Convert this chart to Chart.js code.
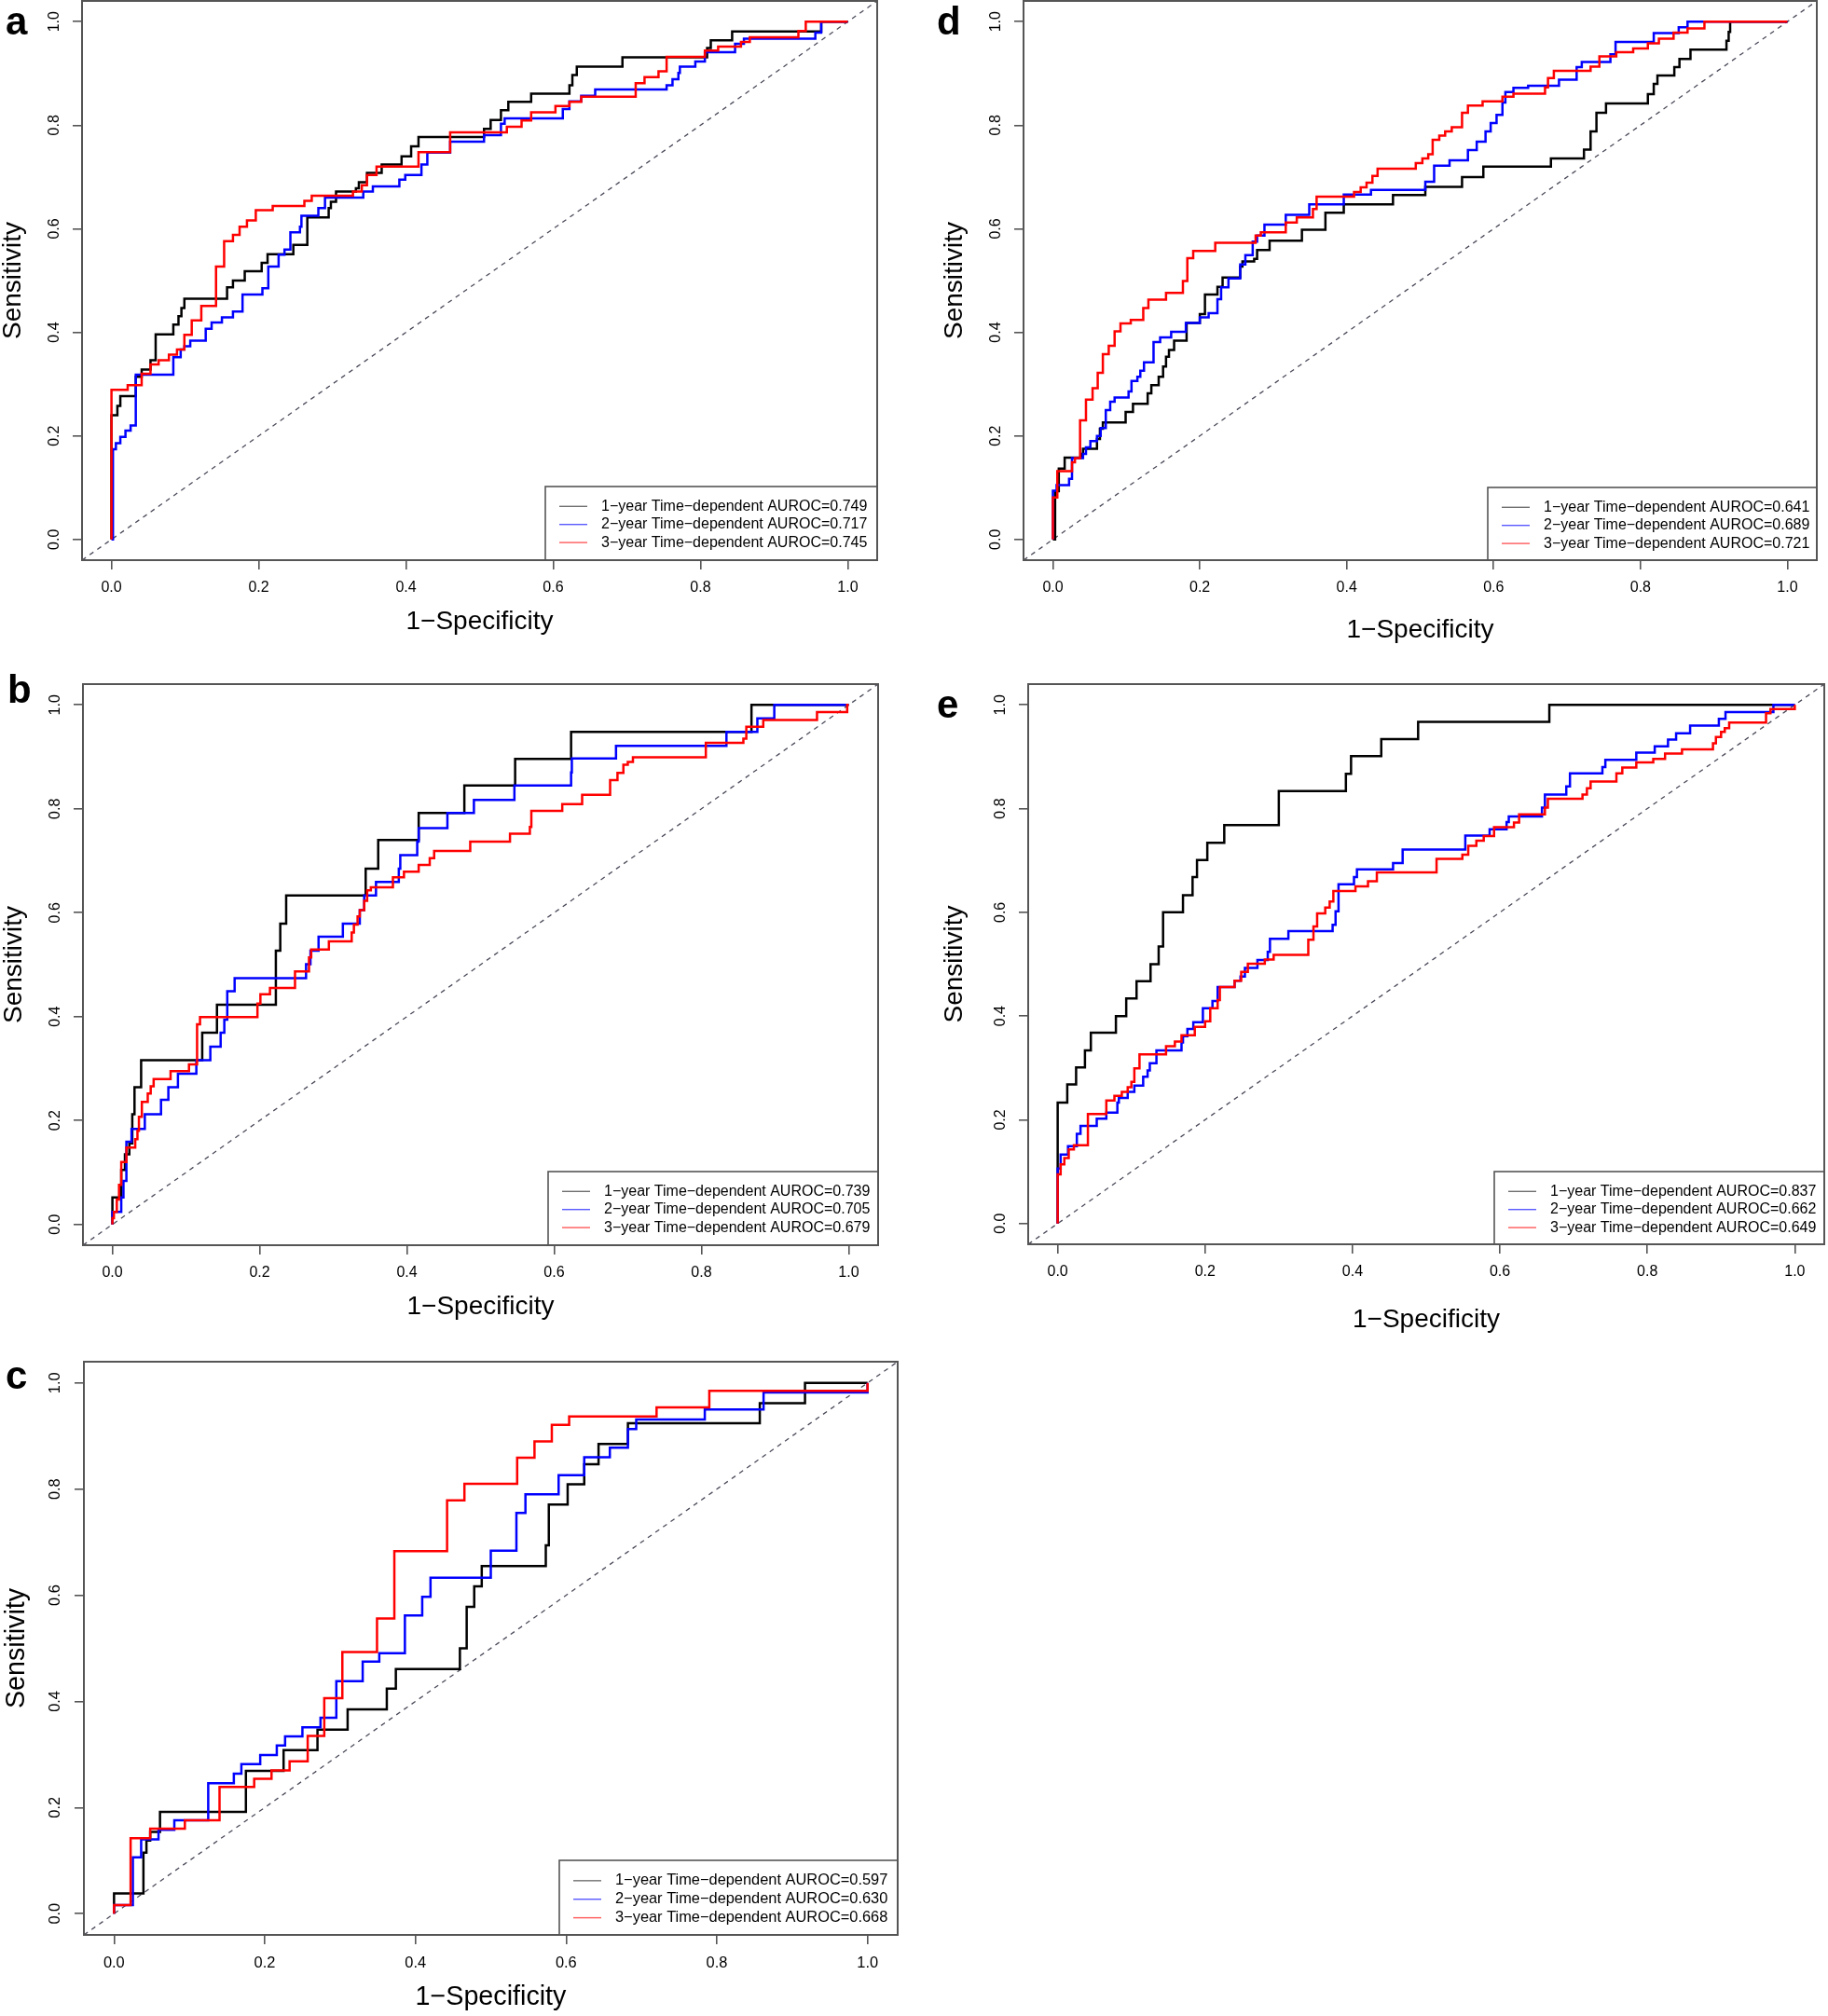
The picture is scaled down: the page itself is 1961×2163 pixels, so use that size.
<!DOCTYPE html>
<html><head><meta charset="utf-8">
<script src="https://cdn.jsdelivr.net/npm/chart.js@4.4.1/dist/chart.umd.min.js"></script>
<style>
html,body{margin:0;padding:0;background:#fff;}
body{position:relative;width:1961px;height:2163px;overflow:hidden;}
canvas{position:absolute;}
.lbl{position:absolute;font:bold 42px "Liberation Sans",Arial,sans-serif;line-height:42px;color:#000;}
</style></head><body>
<script>
// ---------- axis / text data ----------
const AXIS_MIN = -0.04, AXIS_MAX = 1.04;
const TICK_VALUES = [0, 0.2, 0.4, 0.6, 0.8, 1.0];
const SERIES_NAMES = ['1\u2212year', '2\u2212year', '3\u2212year'];
const X_TITLE = '1\u2212Specificity';
const Y_TITLE = 'Sensitivity';
const DIAGONAL = [[AXIS_MIN, AXIS_MIN], [AXIS_MAX, AXIS_MAX]];

const AUROC_A = [0.749, 0.717, 0.745];
const AUROC_B = [0.739, 0.705, 0.679];
const AUROC_C = [0.597, 0.630, 0.668];
const AUROC_D = [0.641, 0.689, 0.721];
const AUROC_E = [0.837, 0.662, 0.649];

// ---------- ROC curves: [1-specificity, sensitivity] at each step ----------
const A1 = [[0,0],[0,0.24],[0.008,0.258],[0.012,0.277],[0.033,0.314],[0.041,0.328],[0.053,0.346],[0.06,0.396],[0.084,0.415],[0.091,0.431],[0.095,0.447],[0.099,0.465],[0.157,0.487],[0.165,0.5],[0.181,0.518],[0.204,0.534],[0.212,0.551],[0.247,0.569],[0.266,0.622],[0.295,0.64],[0.298,0.652],[0.305,0.672],[0.332,0.678],[0.336,0.69],[0.347,0.708],[0.367,0.724],[0.394,0.74],[0.407,0.759],[0.417,0.777],[0.506,0.793],[0.515,0.81],[0.529,0.829],[0.539,0.845],[0.57,0.861],[0.622,0.877],[0.626,0.897],[0.632,0.913],[0.694,0.931],[0.809,0.949],[0.814,0.964],[0.843,0.981],[0.964,1],[1,1]];
const A2 = [[0,0],[0.002,0.174],[0.006,0.186],[0.012,0.198],[0.019,0.21],[0.026,0.22],[0.033,0.318],[0.084,0.352],[0.094,0.367],[0.099,0.373],[0.107,0.384],[0.128,0.407],[0.136,0.419],[0.15,0.429],[0.165,0.44],[0.178,0.473],[0.205,0.485],[0.213,0.527],[0.227,0.55],[0.235,0.56],[0.243,0.593],[0.256,0.604],[0.258,0.625],[0.281,0.64],[0.29,0.66],[0.342,0.672],[0.355,0.682],[0.391,0.695],[0.399,0.704],[0.421,0.724],[0.429,0.747],[0.46,0.768],[0.506,0.781],[0.529,0.803],[0.534,0.813],[0.613,0.831],[0.622,0.846],[0.638,0.857],[0.657,0.869],[0.754,0.877],[0.762,0.889],[0.77,0.901],[0.772,0.913],[0.793,0.923],[0.806,0.941],[0.847,0.957],[0.859,0.967],[0.956,0.979],[0.964,1],[1,1]];
const A3 = [[0,0],[0,0.289],[0.022,0.298],[0.041,0.32],[0.053,0.338],[0.064,0.346],[0.078,0.357],[0.089,0.367],[0.099,0.395],[0.109,0.423],[0.122,0.451],[0.142,0.527],[0.153,0.576],[0.165,0.588],[0.174,0.604],[0.184,0.616],[0.196,0.636],[0.219,0.644],[0.262,0.654],[0.272,0.664],[0.328,0.672],[0.34,0.684],[0.347,0.704],[0.36,0.72],[0.417,0.748],[0.46,0.786],[0.537,0.797],[0.557,0.809],[0.57,0.825],[0.603,0.837],[0.622,0.845],[0.638,0.855],[0.712,0.881],[0.724,0.893],[0.743,0.904],[0.754,0.932],[0.806,0.944],[0.824,0.952],[0.855,0.961],[0.867,0.97],[0.933,0.982],[0.943,1],[1,1]];

const B1 = [[0,0],[0,0.052],[0.012,0.105],[0.017,0.135],[0.023,0.156],[0.027,0.212],[0.03,0.264],[0.039,0.316],[0.122,0.369],[0.142,0.423],[0.222,0.527],[0.228,0.579],[0.236,0.633],[0.344,0.685],[0.361,0.74],[0.416,0.792],[0.478,0.845],[0.547,0.896],[0.623,0.948],[0.868,1],[1,1]];
const B2 = [[0,0],[0,0.024],[0.012,0.052],[0.015,0.084],[0.019,0.159],[0.026,0.184],[0.044,0.212],[0.066,0.24],[0.076,0.264],[0.089,0.29],[0.114,0.316],[0.133,0.342],[0.147,0.369],[0.152,0.394],[0.156,0.449],[0.166,0.474],[0.263,0.501],[0.269,0.527],[0.28,0.554],[0.313,0.579],[0.336,0.605],[0.342,0.633],[0.358,0.659],[0.389,0.685],[0.391,0.711],[0.414,0.737],[0.416,0.763],[0.455,0.792],[0.491,0.817],[0.546,0.845],[0.623,0.87],[0.624,0.897],[0.684,0.921],[0.834,0.948],[0.876,0.974],[0.899,1],[1,1]];
const B3 = [[0,0],[0,0.012],[0.002,0.024],[0.006,0.048],[0.009,0.076],[0.012,0.12],[0.019,0.148],[0.031,0.164],[0.034,0.18],[0.036,0.207],[0.04,0.236],[0.048,0.252],[0.052,0.266],[0.056,0.28],[0.079,0.295],[0.104,0.308],[0.115,0.385],[0.119,0.399],[0.197,0.425],[0.201,0.443],[0.214,0.455],[0.248,0.487],[0.267,0.514],[0.27,0.529],[0.294,0.545],[0.325,0.562],[0.328,0.577],[0.333,0.593],[0.336,0.605],[0.342,0.623],[0.346,0.643],[0.351,0.649],[0.381,0.668],[0.396,0.679],[0.416,0.692],[0.431,0.705],[0.437,0.719],[0.486,0.737],[0.54,0.752],[0.567,0.765],[0.569,0.796],[0.611,0.809],[0.638,0.827],[0.676,0.855],[0.686,0.869],[0.694,0.885],[0.7,0.89],[0.707,0.899],[0.806,0.927],[0.857,0.935],[0.861,0.958],[0.884,0.971],[0.957,0.986],[0.998,1],[1,1]];

const C1 = [[0,0],[0,0.038],[0.039,0.115],[0.043,0.138],[0.048,0.154],[0.061,0.192],[0.175,0.269],[0.225,0.308],[0.27,0.347],[0.31,0.385],[0.362,0.424],[0.374,0.461],[0.459,0.5],[0.468,0.578],[0.478,0.617],[0.488,0.655],[0.573,0.694],[0.577,0.771],[0.602,0.809],[0.624,0.847],[0.643,0.885],[0.682,0.924],[0.857,0.962],[0.917,1],[1,1]];
const C2 = [[0,0],[0,0.016],[0.025,0.106],[0.036,0.14],[0.059,0.158],[0.08,0.176],[0.125,0.246],[0.159,0.264],[0.169,0.282],[0.194,0.299],[0.216,0.317],[0.227,0.334],[0.25,0.351],[0.274,0.369],[0.295,0.438],[0.33,0.475],[0.352,0.491],[0.386,0.562],[0.409,0.597],[0.42,0.633],[0.5,0.684],[0.534,0.755],[0.546,0.79],[0.59,0.826],[0.624,0.86],[0.658,0.878],[0.682,0.913],[0.693,0.931],[0.784,0.95],[0.862,0.982],[1,0.982],[1,1]];
const C3 = [[0,0],[0,0.016],[0.022,0.142],[0.048,0.16],[0.094,0.176],[0.14,0.239],[0.186,0.254],[0.209,0.27],[0.233,0.287],[0.257,0.335],[0.279,0.406],[0.303,0.493],[0.349,0.556],[0.372,0.683],[0.442,0.779],[0.465,0.81],[0.535,0.859],[0.558,0.89],[0.581,0.921],[0.604,0.937],[0.72,0.954],[0.79,0.985],[1,1]];

const D1 = [[0,0],[0.003,0.093],[0.008,0.137],[0.016,0.158],[0.039,0.165],[0.041,0.175],[0.06,0.194],[0.064,0.214],[0.068,0.226],[0.099,0.246],[0.109,0.262],[0.129,0.282],[0.134,0.298],[0.144,0.314],[0.15,0.334],[0.154,0.353],[0.158,0.366],[0.165,0.384],[0.182,0.418],[0.2,0.435],[0.207,0.473],[0.224,0.488],[0.231,0.506],[0.255,0.527],[0.258,0.537],[0.274,0.542],[0.278,0.559],[0.295,0.577],[0.339,0.598],[0.371,0.631],[0.396,0.647],[0.463,0.665],[0.507,0.681],[0.557,0.7],[0.586,0.72],[0.678,0.736],[0.723,0.753],[0.732,0.788],[0.74,0.824],[0.753,0.842],[0.81,0.86],[0.818,0.88],[0.823,0.896],[0.846,0.912],[0.853,0.928],[0.868,0.946],[0.917,0.963],[0.92,0.98],[0.922,1],[1,1]];
const D2 = [[0,0],[0,0.094],[0.005,0.105],[0.022,0.117],[0.026,0.157],[0.041,0.165],[0.045,0.178],[0.051,0.19],[0.06,0.2],[0.065,0.215],[0.072,0.25],[0.078,0.266],[0.084,0.274],[0.103,0.286],[0.107,0.306],[0.115,0.314],[0.119,0.326],[0.124,0.342],[0.137,0.381],[0.146,0.39],[0.161,0.401],[0.181,0.418],[0.2,0.429],[0.212,0.437],[0.224,0.464],[0.229,0.487],[0.239,0.504],[0.255,0.531],[0.262,0.549],[0.272,0.575],[0.278,0.587],[0.288,0.608],[0.317,0.627],[0.349,0.647],[0.396,0.666],[0.433,0.675],[0.507,0.691],[0.519,0.722],[0.54,0.732],[0.565,0.752],[0.577,0.768],[0.589,0.788],[0.596,0.804],[0.604,0.82],[0.612,0.844],[0.616,0.864],[0.627,0.872],[0.647,0.876],[0.689,0.888],[0.713,0.912],[0.72,0.922],[0.759,0.937],[0.766,0.961],[0.818,0.978],[0.852,0.989],[0.864,1],[1,1]];
const D3 = [[0,0],[0,0.081],[0.006,0.132],[0.026,0.149],[0.03,0.157],[0.037,0.23],[0.045,0.27],[0.054,0.292],[0.061,0.322],[0.068,0.358],[0.076,0.374],[0.084,0.402],[0.092,0.417],[0.106,0.424],[0.123,0.447],[0.13,0.463],[0.154,0.476],[0.177,0.499],[0.183,0.543],[0.191,0.557],[0.221,0.573],[0.276,0.587],[0.283,0.593],[0.317,0.612],[0.332,0.622],[0.354,0.638],[0.359,0.662],[0.41,0.671],[0.419,0.68],[0.427,0.689],[0.435,0.702],[0.442,0.716],[0.494,0.727],[0.503,0.736],[0.511,0.744],[0.517,0.772],[0.526,0.78],[0.534,0.788],[0.543,0.796],[0.557,0.824],[0.565,0.838],[0.585,0.846],[0.612,0.855],[0.627,0.861],[0.67,0.873],[0.674,0.891],[0.682,0.905],[0.732,0.913],[0.744,0.933],[0.767,0.941],[0.79,0.948],[0.81,0.958],[0.825,0.967],[0.845,0.979],[0.864,0.987],[0.887,1],[1,1]];

const E1 = [[0,0],[0,0.233],[0.013,0.268],[0.025,0.301],[0.037,0.334],[0.045,0.368],[0.079,0.4],[0.093,0.434],[0.107,0.467],[0.126,0.5],[0.137,0.534],[0.143,0.6],[0.17,0.633],[0.183,0.668],[0.189,0.701],[0.203,0.734],[0.226,0.768],[0.3,0.834],[0.391,0.867],[0.398,0.901],[0.439,0.934],[0.489,0.967],[0.667,1],[1,1]];
const E2 = [[0,0],[0,0.106],[0.004,0.133],[0.014,0.149],[0.026,0.173],[0.031,0.188],[0.053,0.202],[0.066,0.214],[0.081,0.233],[0.083,0.242],[0.095,0.254],[0.104,0.266],[0.116,0.283],[0.122,0.295],[0.125,0.309],[0.134,0.334],[0.168,0.349],[0.17,0.361],[0.176,0.375],[0.184,0.388],[0.197,0.415],[0.21,0.429],[0.217,0.456],[0.24,0.468],[0.248,0.476],[0.254,0.493],[0.271,0.508],[0.285,0.524],[0.288,0.549],[0.313,0.564],[0.373,0.576],[0.377,0.602],[0.381,0.654],[0.402,0.668],[0.406,0.683],[0.455,0.695],[0.468,0.721],[0.553,0.748],[0.586,0.76],[0.609,0.774],[0.612,0.785],[0.657,0.802],[0.661,0.827],[0.69,0.843],[0.695,0.868],[0.739,0.88],[0.743,0.894],[0.785,0.908],[0.81,0.92],[0.828,0.933],[0.839,0.945],[0.858,0.96],[0.897,0.973],[0.906,0.986],[0.971,1],[1,1]];
const E3 = [[0,0],[0,0.095],[0.004,0.114],[0.009,0.126],[0.015,0.143],[0.022,0.151],[0.041,0.211],[0.066,0.237],[0.077,0.246],[0.087,0.254],[0.095,0.263],[0.1,0.273],[0.104,0.299],[0.111,0.326],[0.147,0.342],[0.159,0.351],[0.168,0.363],[0.186,0.379],[0.2,0.39],[0.207,0.415],[0.217,0.431],[0.22,0.456],[0.24,0.468],[0.249,0.485],[0.258,0.501],[0.281,0.509],[0.293,0.518],[0.34,0.547],[0.347,0.573],[0.352,0.598],[0.363,0.609],[0.369,0.621],[0.374,0.641],[0.404,0.65],[0.421,0.66],[0.433,0.677],[0.514,0.703],[0.549,0.711],[0.557,0.728],[0.568,0.738],[0.578,0.747],[0.592,0.764],[0.619,0.773],[0.626,0.789],[0.661,0.802],[0.665,0.819],[0.712,0.827],[0.718,0.839],[0.723,0.852],[0.758,0.868],[0.766,0.879],[0.785,0.889],[0.808,0.896],[0.824,0.906],[0.847,0.914],[0.889,0.926],[0.893,0.938],[0.9,0.948],[0.905,0.955],[0.911,0.966],[0.961,0.984],[0.967,0.992],[1,0.992],[1,1]];

// ---------- styles & layout ----------
const SERIES_COLORS = ['#000000', '#0000FF', '#FF0000'];
const LEGEND_LINE_COLORS = ['#707070', '#5a5aff', '#ff5a5a'];
const FONT = '"Liberation Sans", Arial, Helvetica, sans-serif';
Chart.defaults.font.family = FONT;
Chart.defaults.color = '#000';

const PANELS = [
  {letter:'a', curves:[A1,A2,A3], auroc:AUROC_A, L:88,   T:1,    R:941,  B:601,  yT:74, xT:66, legW:356, legH:79, lx:6,    ly:2,   fs:1},
  {letter:'d', curves:[D1,D2,D3], auroc:AUROC_D, L:1098, T:1,    R:1949, B:601,  yT:74, xT:75, legW:353, legH:78, lx:1005, ly:2,   fs:1},
  {letter:'b', curves:[B1,B2,B3], auroc:AUROC_B, L:89,   T:734,  R:942,  B:1336, yT:74, xT:66, legW:354, legH:79, lx:8,    ly:719, fs:1},
  {letter:'e', curves:[E1,E2,E3], auroc:AUROC_E, L:1103, T:734,  R:1957, B:1335, yT:79, xT:81, legW:354, legH:78, lx:1005, ly:735, fs:1},
  {letter:'c', curves:[C1,C2,C3], auroc:AUROC_C, L:90,   T:1461, R:963,  B:2076, yT:72, xT:67, legW:363, legH:80, lx:6,    ly:1455, fs:1.025}
];

const frameLegend = {
  id: 'frameLegend',
  afterDraw(chart, args, opts) {
    const {ctx, chartArea: a} = chart;
    ctx.save();
    ctx.strokeStyle = '#555';
    ctx.lineWidth = 2;
    ctx.strokeRect(a.left, a.top, a.right - a.left, a.bottom - a.top);
    const lx = a.right - opts.width, ly = a.bottom - opts.height;
    ctx.lineWidth = 1.6;
    ctx.strokeRect(lx, ly, opts.width, opts.height);
    const items = chart.data.datasets.filter(d => d.isSeries).sort((p, q) => p.rank - q.rank);
    const fs = opts.fs;
    const step = 19.4 * fs;
    ctx.font = (16 * fs).toFixed(1) + 'px ' + FONT;
    ctx.textBaseline = 'middle';
    ctx.textAlign = 'left';
    items.forEach((d, i) => {
      const y = ly + 21.3 * fs + i * step;
      ctx.strokeStyle = LEGEND_LINE_COLORS[d.rank];
      ctx.lineWidth = 1.4;
      ctx.beginPath(); ctx.moveTo(lx + 15, y); ctx.lineTo(lx + 45, y); ctx.stroke();
      ctx.fillStyle = '#000';
      ctx.fillText(d.label, lx + 60, y);
    });
    ctx.restore();
  }
};

function buildPanel(p) {
  const TITLE_SIZE = 28 * p.fs, TICK_SIZE = 16 * p.fs;
  const half = TITLE_SIZE * 1.2 / 2;
  const Wy = Math.round(p.yT + half), Hx = Math.round(p.xT + half);
  const PT = 20, PR = 12;
  const cv = document.createElement('canvas');
  cv.width = Wy + (p.R - p.L) + PR;
  cv.height = PT + (p.B - p.T) + Hx;
  cv.style.left = (p.L - Wy) + 'px';
  cv.style.top = (p.T - PT) + 'px';
  cv.style.width = cv.width + 'px';
  cv.style.height = cv.height + 'px';
  document.body.appendChild(cv);

  const lab = document.createElement('div');
  lab.className = 'lbl';
  lab.textContent = p.letter;
  lab.style.left = p.lx + 'px';
  lab.style.top = p.ly + 'px';
  document.body.appendChild(lab);

  const datasets = [{
    label: 'diagonal', data: DIAGONAL.map(([x, y]) => ({x, y})),
    borderColor: '#4a4a5a', borderWidth: 1.3, borderDash: [5, 5], pointRadius: 0, order: 10, isSeries: false
  }];
  p.curves.forEach((pts, i) => datasets.push({
    label: SERIES_NAMES[i] + ' Time\u2212dependent AUROC=' + p.auroc[i].toFixed(3),
    data: pts.map(([x, y]) => ({x, y})),
    borderColor: SERIES_COLORS[i], borderWidth: 2.5, stepped: 'before',
    pointRadius: 0, fill: false, order: 3 - i, isSeries: true, rank: i
  }));

  const labelHalf = TICK_SIZE * 1.39 / 2;
  const tickCfg = (rot, pad) => ({
    font: {size: TICK_SIZE}, color: '#000', padding: pad, autoSkip: false,
    minRotation: rot, maxRotation: rot, callback: v => Number(v).toFixed(1)
  });
  const gridCfg = {display: true, drawOnChartArea: false, drawTicks: true, tickLength: 10, color: '#555', lineWidth: 1.6};
  const setTicks = s => { s.ticks = TICK_VALUES.map(v => ({value: v})); };

  new Chart(cv, {
    type: 'line',
    data: {datasets},
    plugins: [frameLegend],
    options: {
      responsive: false, animation: false, devicePixelRatio: 1,
      layout: {padding: {left: 0, top: PT, right: PR, bottom: 0}},
      plugins: {legend: {display: false}, tooltip: {enabled: false},
                frameLegend: {width: p.legW, height: p.legH, fs: p.fs}},
      elements: {line: {tension: 0}},
      scales: {
        x: {
          type: 'linear', position: 'bottom', min: AXIS_MIN, max: AXIS_MAX,
          afterBuildTicks: setTicks,
          afterFit: s => { s.height = Hx; },
          ticks: tickCfg(0, 30 * p.fs - 10 - TICK_SIZE * 0.6),
          grid: gridCfg, border: {display: false},
          title: {display: true, text: X_TITLE, font: {size: TITLE_SIZE, weight: 'normal'}, color: '#000', padding: 0}
        },
        y: {
          type: 'linear', position: 'left', min: AXIS_MIN, max: AXIS_MAX,
          afterBuildTicks: setTicks,
          afterFit: s => { s.width = Wy; },
          ticks: Object.assign(tickCfg(90, 29.5 * p.fs - 10 - labelHalf), {crossAlign: 'center'}),
          grid: gridCfg, border: {display: false},
          title: {display: true, text: Y_TITLE, font: {size: TITLE_SIZE, weight: 'normal'}, color: '#000', padding: 0}
        }
      }
    }
  });
}

PANELS.forEach(buildPanel);
</script>
</body></html>
